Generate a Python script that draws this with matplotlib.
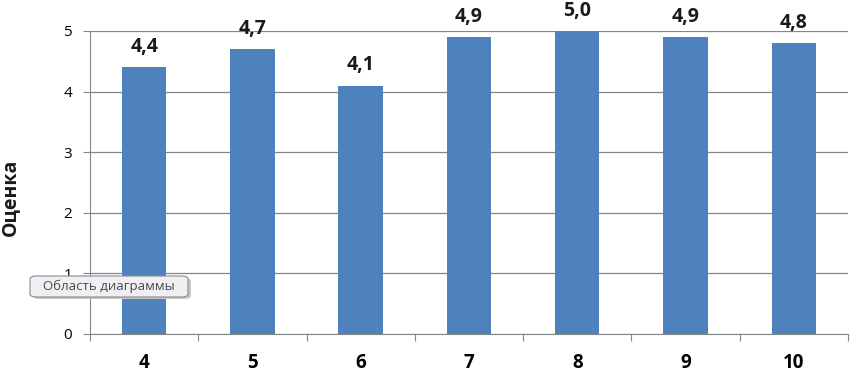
import matplotlib.pyplot as plt
from matplotlib.patches import FancyBboxPatch

plt.rcParams['font.family'] = ['Open Sans', 'DejaVu Sans']

grades = ['4', '5', '6', '7', '8', '9', '10']
scores = [4.4, 4.7, 4.1, 4.9, 5.0, 4.9, 4.8]
y_ticks = [0, 1, 2, 3, 4, 5]

fig = plt.figure(figsize=(8.53, 3.73), dpi=100)
ax = fig.add_axes([0.1055, 0.1046, 0.8885, 0.8124])

x = list(range(len(grades)))
bars = ax.bar(x, scores, width=0.41, color='#4F81BD', zorder=3)

for xi, v in zip(x, scores):
    ax.text(xi, v + 0.17, f'{v:.1f}'.replace('.', ','), ha='center', va='bottom',
            fontsize=14, fontweight='bold', color='#1a1a1a', clip_on=False)

ax.set_xlim(-0.5, len(grades) - 0.5)
ax.set_ylim(0, 5)
ax.set_yticks(y_ticks)
ax.set_yticklabels([str(t) for t in y_ticks], fontsize=11)
ax.set_xticks([i - 0.5 for i in range(len(grades) + 1)], minor=False)
ax.set_xticklabels([''] * (len(grades) + 1))
ax.set_xticks(x, minor=True)
ax.set_xticklabels(grades, minor=True, fontsize=13.5, fontweight='bold')
ax.tick_params(axis='x', which='minor', length=0, pad=14)
ax.tick_params(axis='x', which='major', length=5, color='#868686', direction='out')
ax.tick_params(axis='y', length=5, color='#868686', direction='out', pad=8)

ax.grid(axis='y', color='#868686', linewidth=0.9, zorder=0)
for s in ['top', 'right']:
    ax.spines[s].set_visible(False)
ax.spines['left'].set_color('#868686')
ax.spines['bottom'].set_color('#868686')

# y axis title, sits against the left edge as in the source
fig.text(10 / 853, 1 - 197 / 373, 'Оценка', rotation=90, ha='center', va='center',
         fontsize=14, fontweight='bold', color='#1a1a1a')

# tooltip
shadow = FancyBboxPatch((33 / 853, 1 - 299 / 373), 158 / 853, 21 / 373,
                        boxstyle='round,pad=0,rounding_size=0.008',
                        transform=fig.transFigure, facecolor='#c8c8c8',
                        edgecolor='none', zorder=9)
box = FancyBboxPatch((30 / 853, 1 - 297 / 373), 158 / 853, 21 / 373,
                     boxstyle='round,pad=0,rounding_size=0.008',
                     transform=fig.transFigure, facecolor='#eef0f3',
                     edgecolor='#8a8a8a', linewidth=0.8, zorder=10)
fig.patches.append(shadow)
fig.patches.append(box)
fig.text(109 / 853, 1 - 286.5 / 373, 'Область диаграммы', ha='center', va='center',
         fontsize=9.5, color='#4a4a4a', zorder=11)

fig.savefig('out.png', dpi=100)
